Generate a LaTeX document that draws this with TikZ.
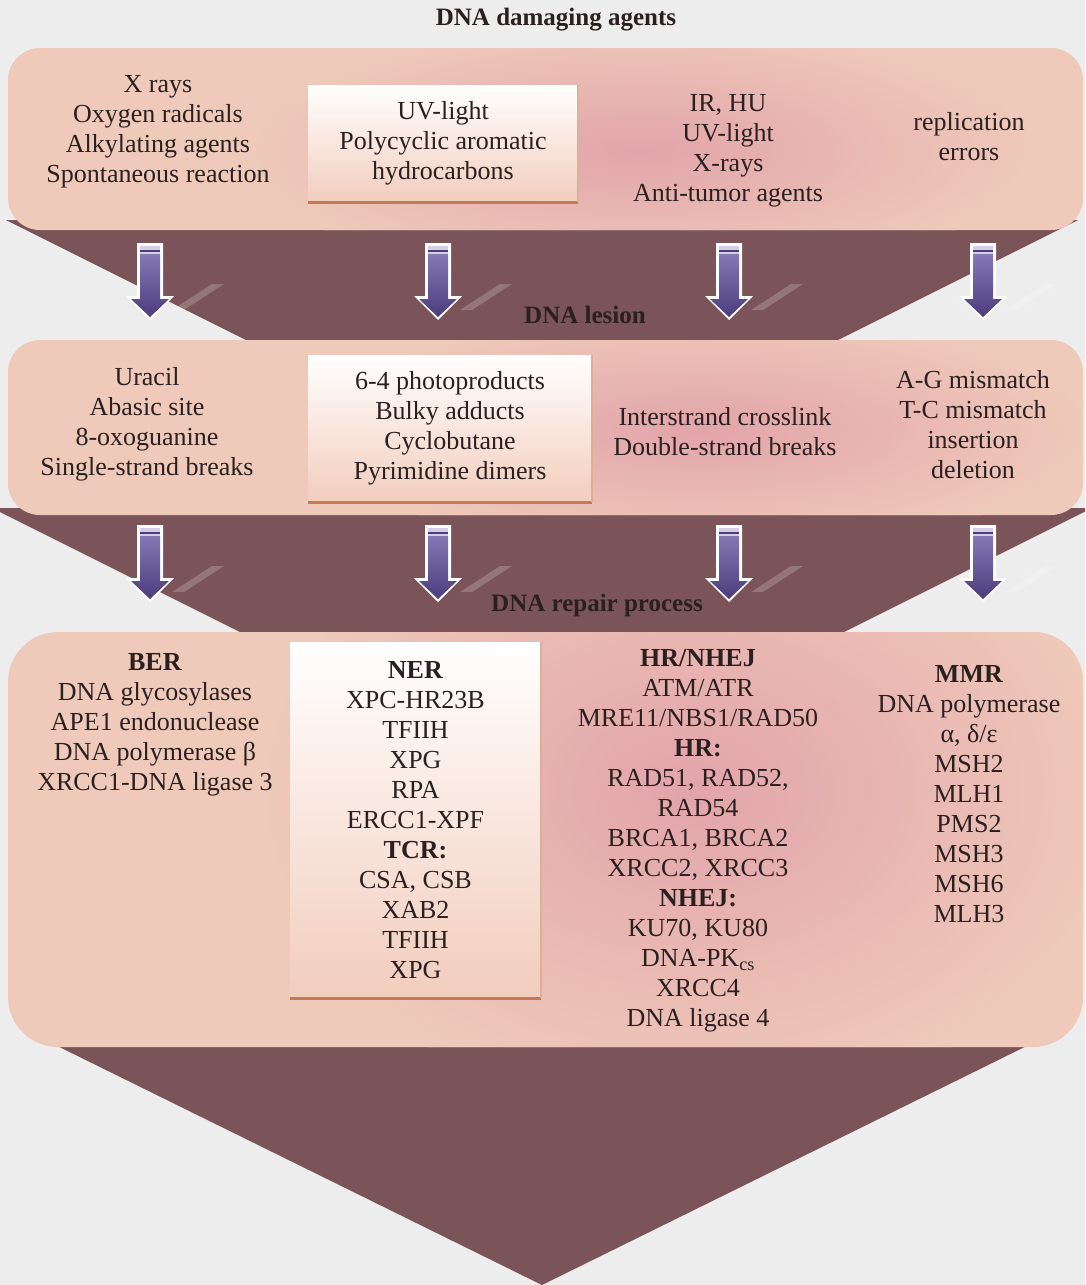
\documentclass[tikz,border=0pt]{standalone}
\usepackage{fontspec}
\setmainfont{Liberation Serif}
\usetikzlibrary{positioning}

\definecolor{bggray}{HTML}{EDEDED}
\definecolor{bandpeach}{HTML}{EFCABA}
\definecolor{bandpink}{HTML}{E2A4AA}
\definecolor{wedge}{HTML}{7A5458}
\definecolor{inkbrown}{HTML}{2B2020}
\definecolor{boxpeach}{HTML}{F2CDBD}
\definecolor{boxedge}{HTML}{C47A55}
\definecolor{arrowtop}{HTML}{8677B5}
\definecolor{arrowbot}{HTML}{4B3C7C}

\tikzset{
  dnarrow/.pic={
    \fill[white, opacity=.2] (22,66) -- (62,40) -- (74,40) -- (34,66) -- cycle;
    \fill[white] (-13,-1) -- (13,-1) -- (13,52) -- (24,52) -- (0,76) -- (-24,52) -- (-13,52) -- cycle;
    \shade[top color=arrowtop, bottom color=arrowbot] (-10,10) -- (10,10) -- (10,55) -- (19,55) -- (0,73) -- (-19,55) -- (-10,55) -- cycle;
    \fill[arrowtop!35!white] (-10,2) rectangle (10,10);
    \draw[arrowbot, line width=1.5pt] (-10,7) -- (10,7);
  }
}

\begin{document}
\begin{tikzpicture}[x=1pt, y=-1pt,
  band/.style={fill=bandpeach, rounded corners=32pt},
  wedgefill/.style={fill=wedge},
  lbl/.style={text=inkbrown, align=center, inner sep=0pt, font=\fontsize{26}{30}\selectfont},
  head/.style={text=inkbrown, inner sep=0pt, font=\bfseries\fontsize{25}{30}\selectfont},
  whitebox/.style 2 args={lbl, top color=white, bottom color=boxpeach, minimum width=#1, minimum height=#2},
  boxrim/.style={boxedge, line width=3pt},
  glow/.style={inner color=bandpink, outer color=bandpeach}
]
\useasboundingbox (0,0) rectangle (1085,1285);
\fill[bggray] (0,0) rectangle (1085,1285);
\clip (0,0) rectangle (1085,1285);

% wedges between the bands
\fill[wedgefill] (6,220) -- (1078,220) -- (828,345) -- (256,345) -- cycle;
\fill[wedgefill] (-8,508) -- (1092,508) -- (828,640) -- (256,640) -- cycle;
\fill[wedgefill] (35,1035) -- (1049,1035) -- (542,1285) -- cycle;

% bands
\fill[band] (8,48) rectangle (1083,230);
\fill[band] (8,340) rectangle (1083,515);
\fill[band, rounded corners=50pt] (8,632) rectangle (1083,1047);
\begin{scope}
  \clip[rounded corners=32pt] (8,48) rectangle (1083,230);
  \shade[glow] (640,150) ellipse (400 and 130);
\end{scope}
\begin{scope}
  \clip[rounded corners=32pt] (8,340) rectangle (1083,515);
  \shade[glow] (700,430) ellipse (400 and 120);
\end{scope}
\begin{scope}
  \clip[rounded corners=50pt] (8,632) rectangle (1083,1047);
  \shade[glow] (690,790) ellipse (440 and 320);
\end{scope}

% arrows
\foreach \ax in {150,438,729,983} {
  \pic at (\ax,244) {dnarrow};
  \pic at (\ax,526) {dnarrow};
}

% headings
\node[head] (agents) at (556,20) {DNA damaging agents};
\node[head] (lesion) at (585,315) {DNA lesion};
\node[head] (repair) at (597,605) {DNA repair process};

% damaging agents
\node[lbl] (ag1) at (158,132) {X rays\\Oxygen radicals\\Alkylating agents\\Spontaneous reaction};
\node[whitebox={270pt}{117pt}] (bx1) at (443,143.5) {UV-light\\Polycyclic aromatic\\hydrocarbons};
\node[lbl] (ag3) at (728,151) {IR, HU\\UV-light\\X-rays\\Anti-tumor agents};
\node[lbl] (ag4) at (969,137) {replication\\errors};

% lesions
\node[lbl] (le1) at (147,424) {Uracil\\Abasic site\\8-oxoguanine\\Single-strand breaks};
\node[whitebox={284pt}{147pt}] (bx2) at (450,428.5) {6-4 photoproducts\\Bulky adducts\\Cyclobutane\\Pyrimidine dimers};
\node[lbl] (le3) at (725,432) {Interstrand crosslink\\Double-strand breaks};
\node[lbl] (le4) at (973,425) {A-G mismatch\\T-C mismatch\\insertion\\deletion};

% repair
\node[lbl] (re1) at (155,725) {\textbf{BER}\\DNA glycosylases\\APE1 endonuclease\\DNA polymerase β\\XRCC1-DNA ligase 3};
\node[whitebox={251pt}{356pt}] (bx3) at (415.5,820) {\textbf{NER}\\XPC-HR23B\\TFIIH\\XPG\\RPA\\ERCC1-XPF\\\textbf{TCR:}\\CSA, CSB\\XAB2\\TFIIH\\XPG};
\node[lbl] (re3) at (698,841) {\textbf{HR/NHEJ}\\ATM/ATR\\MRE11/NBS1/RAD50\\\textbf{HR:}\\RAD51, RAD52,\\RAD54\\BRCA1, BRCA2\\XRCC2, XRCC3\\\textbf{NHEJ:}\\KU70, KU80\\DNA-PK\textsubscript{cs}\\XRCC4\\DNA ligase 4};
\node[lbl] (re4) at (969,794) {\textbf{MMR}\\DNA polymerase\\α, δ/ε\\MSH2\\MLH1\\PMS2\\MSH3\\MSH6\\MLH3};

% box rims
\foreach \b in {bx1,bx2,bx3} {
  \draw[boxrim] (\b.south west) -- (\b.south east);
  \draw[boxedge!60, line width=2pt] (\b.south east) -- (\b.north east);
}
\end{tikzpicture}
\end{document}
